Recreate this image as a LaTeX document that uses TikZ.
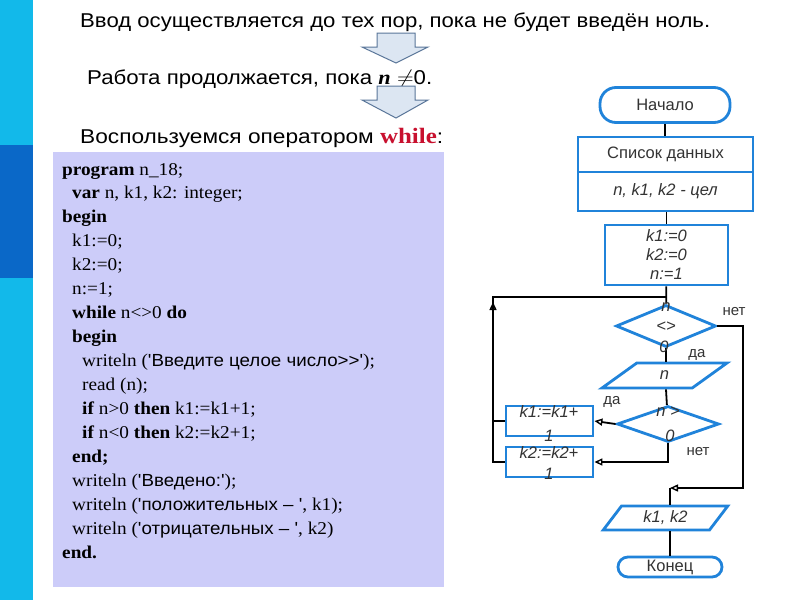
\documentclass[tikz,border=0pt]{standalone}
\usepackage{fontspec}
\setmainfont{Liberation Serif}
\newfontfamily\arial{Liberation Sans}
\usetikzlibrary{shapes.geometric,arrows.meta}
\definecolor{barc}{HTML}{12B9EA}
\definecolor{bard}{HTML}{0A68C8}
\definecolor{panel}{HTML}{CCCCF9}
\definecolor{fcb}{HTML}{2083DA}
\definecolor{fct}{HTML}{333333}
\definecolor{arrf}{HTML}{DCE6F2}
\definecolor{arre}{HTML}{5A7699}
\definecolor{wred}{HTML}{C8102E}
\newcommand{\cs}[1]{{\arial\fontsize{17.5}{17.5}\selectfont #1}}
\newcommand{\cl}[1]{\scalebox{1.07}[1]{#1}}
\newcommand{\q}{\textquotesingle}
\tikzset{
 fc/.style={draw=fcb, line width=2.8pt, text=fct, font=\arial\fontsize{16.5}{19}\selectfont, inner sep=0pt},
 term/.style={fc, rectangle},
 box/.style={fc, rectangle},
 dia/.style={fc, diamond},
 para/.style={fc, trapezium, trapezium left angle=57, trapezium right angle=123, trapezium stretches=true},
 conn/.style={line width=1.8pt, black},
 arr/.style={conn, -{Triangle[open, length=8pt, width=7pt, line width=1.4pt]}},
 lab/.style={text=fct, font=\arial\fontsize{15}{17}\selectfont, inner sep=0pt},
 ilab/.style={lab, font=\arial\itshape\fontsize{16.5}{19}\selectfont},
 code/.style={anchor=base west, inner sep=0pt, font=\fontsize{18}{18}\selectfont},
 top/.style={anchor=base west, inner sep=0pt},
 barrow/.style={fill=arrf, draw=arre, line width=1pt},
}
\begin{document}
\begin{tikzpicture}[x=1pt,y=-1pt]
\useasboundingbox (0,0) rectangle (800,600);
\fill[white] (0,0) rectangle (800,600);
% left bar
\fill[barc] (0,0) rectangle (33,600);
\fill[bard] (0,145) rectangle (33,278);
% top texts
\node[top] (t1) at (80,27) {\resizebox{630pt}{\height}{\arial\fontsize{20}{20}\selectfont Ввод осуществляется до тех пор, пока не будет введён ноль.}};
\node[top] (t2) at (87,84) {\resizebox{345pt}{\height}{\arial\fontsize{20}{20}\selectfont Работа продолжается, пока {\rmfamily\bfseries\itshape n} $\neq$0.}};
\node[top] (t3) at (80,143) {\resizebox{363pt}{\height}{\arial\fontsize{20}{20}\selectfont Воспользуемся оператором {\rmfamily\bfseries\fontsize{22}{22}\selectfont\color{wred}while}:}};
% block arrows
\draw[barrow] (377,33) -- (415,33) -- (415,47) -- (428,47) -- (396,63) -- (362,47) -- (377,47) -- cycle;
\draw[barrow] (377,86) -- (415,86) -- (415,100) -- (428,100) -- (396,118) -- (362,100) -- (377,100) -- cycle;
% code panel
\fill[panel] (53,152) rectangle (444,587);
\node[code] (c1) at (62,175) {\cl{\textbf{program} n\_18;}};
\node[code] (c2) at (72,198.9) {\cl{\textbf{var} n, k1, k2: integer;}};
\node[code] (c3) at (62,222.9) {\cl{\textbf{begin}}};
\node[code] (c4) at (72,246.8) {\cl{k1:=0;}};
\node[code] (c5) at (72,270.8) {\cl{k2:=0;}};
\node[code] (c6) at (72,294.7) {\cl{n:=1;}};
\node[code] (c7) at (72,318.6) {\cl{\textbf{while} n<>0 \textbf{do}}};
\node[code] (c8) at (72,342.6) {\cl{\textbf{begin}}};
\node[code] (c9) at (82,366.5) {\cl{writeln (\cs{\q Введите целое число>>\q});}};
\node[code] (c10) at (82,390.5) {\cl{read (n);}};
\node[code] (c11) at (82,414.4) {\cl{\textbf{if} n>0 \textbf{then} k1:=k1+1;}};
\node[code] (c12) at (82,438.3) {\cl{\textbf{if} n<0 \textbf{then} k2:=k2+1;}};
\node[code] (c13) at (72,462.3) {\cl{\textbf{end;}}};
\node[code] (c14) at (72,486.2) {\cl{writeln (\cs{\q Введено:\q});}};
\node[code] (c15) at (72,510.2) {\cl{writeln (\cs{\q положительных – \q}, k1);}};
\node[code] (c16) at (72,534.1) {\cl{writeln (\cs{\q отрицательных – \q}, k2)}};
\node[code] (c17) at (62,558) {\cl{\textbf{end.}}};
% flowchart nodes
\node[term, rounded corners=16pt, minimum width=130pt, minimum height=35pt] (start) at (665,105) {Начало};
\node[box, minimum width=175pt, minimum height=35pt] (data) at (665.5,154.5) {Список данных};
\node[box, minimum width=175pt, minimum height=39pt, font=\arial\itshape\fontsize{16.5}{19}\selectfont] (types) at (665.5,191.5) {n, k1, k2 - цел};
\node[box, minimum width=123pt, minimum height=60pt, align=center, font=\arial\itshape\fontsize{16.5}{19}\selectfont] (init) at (666.5,255) {k1:=0\\k2:=0\\n:=1};
\node[dia, minimum width=100pt, minimum height=42pt] (d1) at (666,326) {};
\node[para, minimum width=125pt, minimum height=25pt, font=\arial\itshape\fontsize{16.5}{19}\selectfont] (pn) at (664.5,375.5) {n};
\node[dia, minimum width=102pt, minimum height=36pt] (d2) at (668,424) {};
\node[box, minimum width=87pt, minimum height=30pt] (b1) at (549.5,421) {};
\node[box, minimum width=87pt, minimum height=30pt] (b2) at (549.5,462) {};
\node[para, minimum width=125pt, minimum height=24pt, font=\arial\itshape\fontsize{16.5}{19}\selectfont] (out) at (665.5,518) {k1, k2};
\node[term, rounded corners=10pt, minimum width=104pt, minimum height=20pt] (fin) at (670,567) {Конец};
% connectors
\coordinate (lt) at (493,297);
\coordinate (la) at (493,322);
\coordinate (lb) at (493,302);
\coordinate (ex) at (743,488);
\coordinate (exb) at (670,488);
\draw[conn] (start) -- (start |- data.north);
\draw[conn] (types.south -| init) -- (init);
\draw[conn] (init) -- (d1);
\draw[conn] (d1) -- (d1 |- pn.north);
\draw[conn] (d1 |- pn.south) -- (d2);
\draw[arr] (d2.west) -- (b1.east);
\draw[arr] (d2.south) |- (b2.east);
\draw[conn] (b2.west) -| (lt) -- (lt -| init.south);
\draw[conn] (b1.west) -- (b1.west -| lt);
\draw[arr] (la) -- (lb);
\draw[arr] (d1.east) -| (ex) -- (exb);
\draw[conn] (exb) -- (exb |- out.north);
\draw[conn] (out.south -| fin) -- (fin);
% text in shapes
\node[ilab] (d1a) at (666,307) {n};
\node[ilab] (d1b) at (666,327) {<>};
\node[ilab] (d1c) at (664,347) {0};
\node[ilab] (d2a) at (668,412) {n >};
\node[ilab] (d2b) at (670,436) {0};
\node[ilab] (b1a) at (549,412) {k1:=k1+};
\node[ilab] (b1b) at (549,436) {1};
\node[ilab] (b2a) at (549,453) {k2:=k2+};
\node[ilab] (b2b) at (549,474) {1};
% labels
\node[lab] (n1) at (734,312) {нет};
\node[lab] (y1) at (697,355) {да};
\node[lab] (y2) at (612,402) {да};
\node[lab] (n2) at (698,452) {нет};
\end{tikzpicture}
\end{document}
